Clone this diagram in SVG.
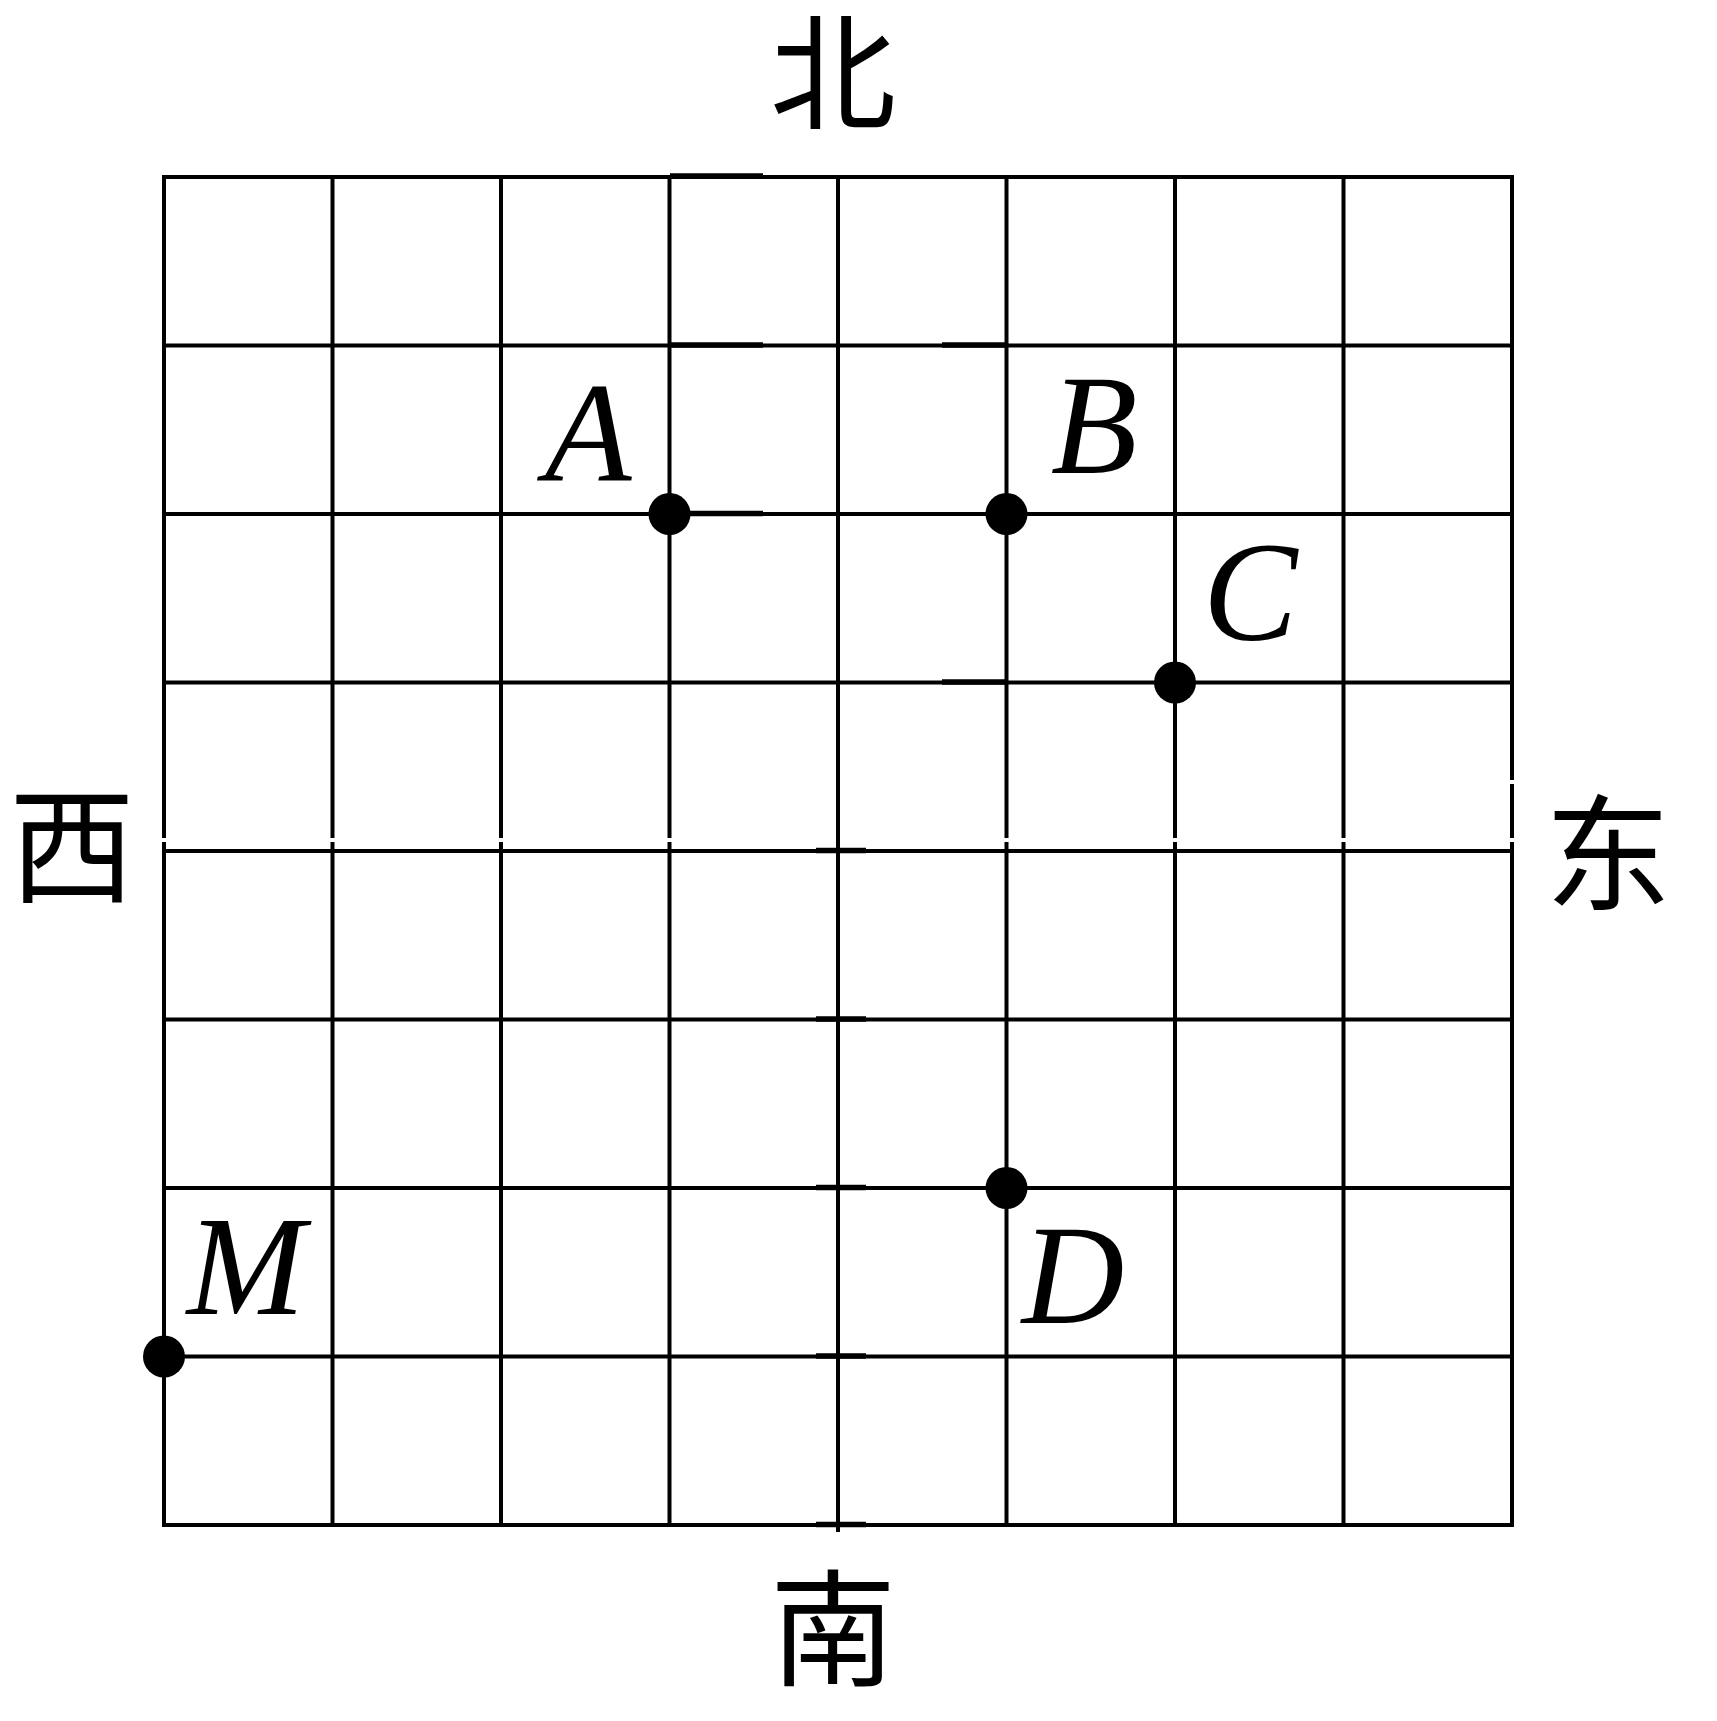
<svg xmlns="http://www.w3.org/2000/svg" width="1717" height="1721" viewBox="0 0 1717 1721">
<style>
.g{stroke:#000;stroke-width:4;fill:none;stroke-linecap:square}
.t{stroke:#000;stroke-width:5.5;fill:none}
.gap{fill:#fff}
.dot{fill:#000}
.lbl{font-family:"Liberation Serif","Times New Roman",serif;font-style:italic;font-size:142px;fill:#000;text-anchor:middle}
.dir{font-family:"Noto Sans CJK SC","Noto Sans CJK JP",sans-serif;font-size:126px;fill:#000;text-anchor:middle}
</style>
<rect width="1717" height="1721" fill="#fff"/>
<g id="connectors">
<g id="grid">
<rect class="g" x="164" y="177" width="1348" height="1348"/>
<path class="g" d="M332.5 177V1525M501 177V1525M669.5 177V1525M838 177V1530M1006.5 177V1525M1175 177V1525M1343.5 177V1525"/>
<path class="g" d="M164 345.5H1512M164 514H1512M164 682.5H1512M164 851H1512M164 1019.5H1512M164 1188H1512M164 1356.5H1512"/>
<path class="t" d="M670 176H763M670 345H763M670 513.5H763M942 345H1006M942 682H1006M816 850.5H866M816 1019H866M816 1187.5H866M816 1356H866M816 1524.5H866"/>
</g>
<g id="gaps">
<rect class="gap" x="158" y="838" width="12" height="4"/>
<rect class="gap" x="326.5" y="838" width="12" height="4"/>
<rect class="gap" x="495" y="838" width="12" height="4"/>
<rect class="gap" x="663.5" y="838" width="12" height="4"/>
<rect class="gap" x="1000.5" y="838" width="12" height="4"/>
<rect class="gap" x="1169" y="838" width="12" height="4"/>
<rect class="gap" x="1337.5" y="838" width="12" height="4"/>
<rect class="gap" x="1506" y="838" width="12" height="4"/>
<rect class="gap" x="1506" y="780" width="12" height="4"/>
</g>
</g>
<g id="node-A"><circle class="dot" cx="669.5" cy="514" r="21"/><text class="lbl" x="588" y="480">A</text></g>
<g id="node-B"><circle class="dot" cx="1006.5" cy="514" r="21"/><text class="lbl" x="1094" y="473">B</text></g>
<g id="node-C"><circle class="dot" cx="1175" cy="682.5" r="21"/><text class="lbl" x="1250" y="640">C</text></g>
<g id="node-D"><circle class="dot" cx="1006.5" cy="1188" r="21"/><text class="lbl" x="1073" y="1323">D</text></g>
<g id="node-M"><circle class="dot" cx="164" cy="1356.5" r="21"/><text class="lbl" x="246" y="1314">M</text></g>
<g id="label-north"><text class="dir" x="833" y="120">北</text></g>
<g id="label-west"><text class="dir" x="72" y="893">西</text></g>
<g id="label-east"><text class="dir" x="1608" y="901">东</text></g>
<g id="label-south"><text class="dir" x="833" y="1676">南</text></g>
</svg>
